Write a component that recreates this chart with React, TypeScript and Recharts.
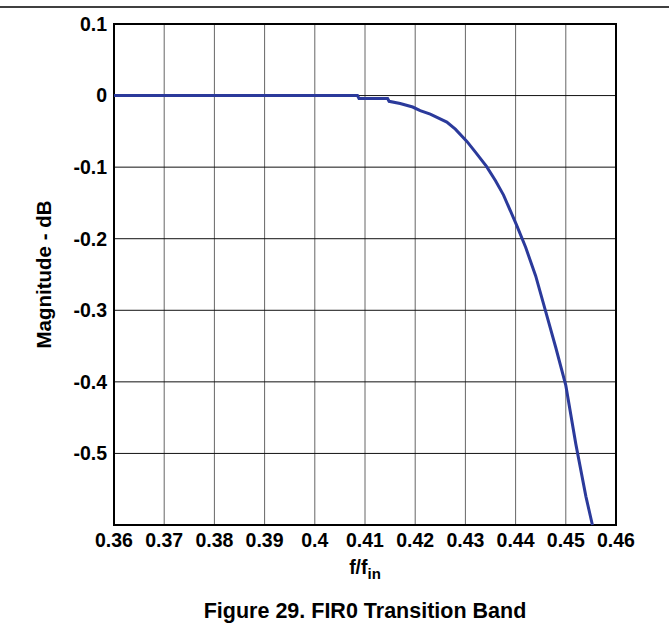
import { CartesianGrid, Line, LineChart, ReferenceArea, XAxis, YAxis } from "recharts";

// FIR0 transition band
const freq = [
  0.36, 0.385, 0.4085, 0.4088, 0.4145, 0.4148, 0.417, 0.4195, 0.421, 0.423,
  0.4263, 0.428, 0.4303, 0.432, 0.4342, 0.436, 0.4376, 0.4402, 0.442, 0.444,
  0.446, 0.448, 0.45, 0.452, 0.454, 0.4553,
];
const magnitude = [
  0, 0, 0, -0.004, -0.004, -0.008, -0.011, -0.016, -0.021, -0.026,
  -0.037, -0.047, -0.064, -0.079, -0.099, -0.119, -0.139, -0.181, -0.212, -0.252,
  -0.302, -0.352, -0.405, -0.487, -0.56, -0.6,
];
const xTicks = [0.36, 0.37, 0.38, 0.39, 0.4, 0.41, 0.42, 0.43, 0.44, 0.45, 0.46];
const yTicks = [0.1, 0, -0.1, -0.2, -0.3, -0.4, -0.5, -0.6];

const data = freq.map((f, i) => ({ f, db: magnitude[i] }));

const font = "'Liberation Sans', Arial, sans-serif";
const tickStyle = { fontFamily: font, fontWeight: 700, fontSize: 19.5, fill: "#000" };

export default function App() {
  return (
    <div style={{ position: "absolute", left: 0, top: 0, width: 669, height: 627, background: "#fff" }}>
      <LineChart
        width={669}
        height={627}
        data={data}
        margin={{ top: 24, right: 53, bottom: 72, left: 54 }}
      >
        <CartesianGrid horizontal={false} stroke="#666" strokeWidth={1} />
        <CartesianGrid vertical={false} stroke="#111" strokeWidth={1} />
        <XAxis
          dataKey="f"
          type="number"
          domain={[0.36, 0.46]}
          ticks={xTicks}
          tickFormatter={(v: number) => String(v)}
          tick={tickStyle}
          tickLine={false}
          axisLine={false}
          tickSize={0}
          tickMargin={8}
          height={30}
          interval={0}
        />
        <YAxis
          type="number"
          domain={[-0.6, 0.1]}
          ticks={yTicks}
          tickFormatter={(v: number) => (v === -0.6 ? "" : String(v))}
          tick={tickStyle}
          tickLine={false}
          axisLine={false}
          tickSize={0}
          tickMargin={7}
          width={60}
          interval={0}
        />
        <ReferenceArea
          x1={0.36}
          x2={0.46}
          y1={-0.6}
          y2={0.1}
          fill="none"
          stroke="#000"
          strokeWidth={2}
          ifOverflow="visible"
        />
        <Line
          dataKey="db"
          type="linear"
          stroke="#2B3A9B"
          strokeWidth={3}
          dot={false}
          isAnimationActive={false}
        />
      </LineChart>
      <svg
        width={669}
        height={627}
        style={{ position: "absolute", left: 0, top: 0, pointerEvents: "none" }}
      >
        <line x1={0} x2={669} y1={7} y2={7} stroke="#000" strokeWidth={1.5} />
        <text
          transform="translate(43,274.5) rotate(-90)"
          textAnchor="middle"
          dominantBaseline="central"
          style={{ fontFamily: font, fontWeight: 700, fontSize: 20.5 }}
        >
          Magnitude - dB
        </text>
        <text
          x={365}
          y={574}
          textAnchor="middle"
          style={{ fontFamily: font, fontWeight: 700, fontSize: 19.5 }}
        >
          f/f
          <tspan dy={5} style={{ fontSize: 15 }}>
            in
          </tspan>
        </text>
        <text
          x={365}
          y={618}
          textAnchor="middle"
          style={{ fontFamily: font, fontWeight: 700, fontSize: 21.5 }}
        >
          Figure 29. FIR0 Transition Band
        </text>
      </svg>
    </div>
  );
}
